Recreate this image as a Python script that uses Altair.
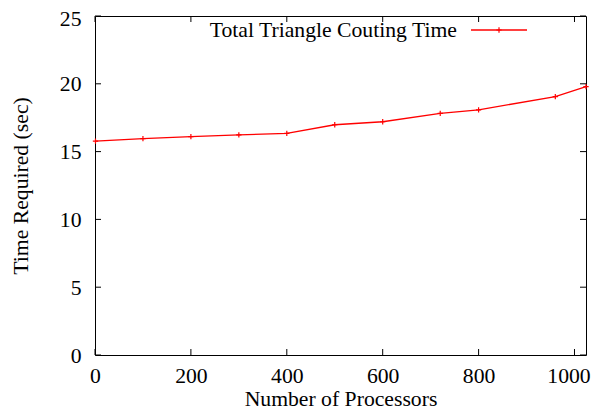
import altair as alt
import pandas as pd

processors = [1, 100, 200, 300, 400, 500, 600, 720, 800, 960, 1024]
times = [15.77, 15.96, 16.11, 16.23, 16.35, 16.98, 17.20, 17.82, 18.08, 19.06, 19.79]
x_ticks = [0, 200, 400, 600, 800, 1000]
y_ticks = [0, 5, 10, 15, 20, 25]
series_name = "Total Triangle Couting Time"

W, H = 491, 339
FONT = "Liberation Serif"
FS = 21.7
RED = "#ff0000"
PLUS = "M-1,0H1M0,-1V1"

df = pd.DataFrame({"Processors": processors, "Time": times})

x_scale = alt.Scale(domain=[0, 1024], nice=False, zero=False)
y_scale = alt.Scale(domain=[0, 25], nice=False)
x_axis = alt.Axis(values=x_ticks, title="Number of Processors", labelPadding=10,
                  titlePadding=2, format="d", labelFlush=False,
                  labelOffset={"condition": {"test": "datum.value == 1000", "value": -6}, "value": 0})
y_axis = alt.Axis(values=y_ticks, title="Time Required (sec)", labelPadding=14,
                  titlePadding=27, format="d", labelFlush=False,
                  labelOffset={"condition": {"test": "datum.value == 25", "value": 2}, "value": 0})

X = alt.X("Processors:Q", scale=x_scale, axis=x_axis)
Y = alt.Y("Time:Q", scale=y_scale, axis=y_axis)

line = alt.Chart(df).mark_line(color=RED, strokeWidth=1.3).encode(x=X, y=Y)
pts = alt.Chart(df).mark_point(shape=PLUS, size=28, color=RED, strokeWidth=1.2,
                               filled=False, opacity=1).encode(x=X, y=Y)

xt = pd.DataFrame({"Processors": x_ticks})
yt = pd.DataFrame({"Time": y_ticks})
tick_style = dict(color="black", strokeWidth=1)
t_bottom = alt.Chart(xt).mark_rule(**tick_style).encode(x=X, y=alt.value(H), y2=alt.value(H - 6))
t_top = alt.Chart(xt).mark_rule(**tick_style).encode(x=X, y=alt.value(0), y2=alt.value(6))
t_left = alt.Chart(yt).mark_rule(**tick_style).encode(y=Y, x=alt.value(0), x2=alt.value(6))
t_right = alt.Chart(yt).mark_rule(**tick_style).encode(y=Y, x=alt.value(W), x2=alt.value(W - 6))

leg_df = pd.DataFrame({"label": [series_name]})
LY = 14
leg_text = alt.Chart(leg_df).mark_text(font=FONT, fontSize=FS, align="right",
                                       baseline="middle", color="black").encode(
    text="label:N", x=alt.value(362), y=alt.value(LY))
leg_line = alt.Chart(leg_df).mark_rule(color=RED, strokeWidth=1.3).encode(
    x=alt.value(376), x2=alt.value(432), y=alt.value(LY))
leg_pt = alt.Chart(leg_df).mark_point(shape=PLUS, size=28, color=RED, strokeWidth=1.2,
                                      filled=False, opacity=1).encode(
    x=alt.value(404), y=alt.value(LY))

chart = alt.layer(t_bottom, t_top, t_left, t_right, line, pts, leg_text, leg_line, leg_pt).properties(
    width=W, height=H,
    autosize=alt.AutoSizeParams(type="none"),
    padding={"left": 87, "top": 8, "right": 6, "bottom": 55},
).configure_view(stroke="black", strokeWidth=1).configure_axis(
    domain=False, ticks=False, grid=False,
    labelFont=FONT, labelFontSize=FS, labelColor="black",
    titleFont=FONT, titleFontSize=FS, titleFontWeight="normal", titleColor="black",
)

chart.save("out.html", embed_options={"renderer": "svg", "actions": False})
